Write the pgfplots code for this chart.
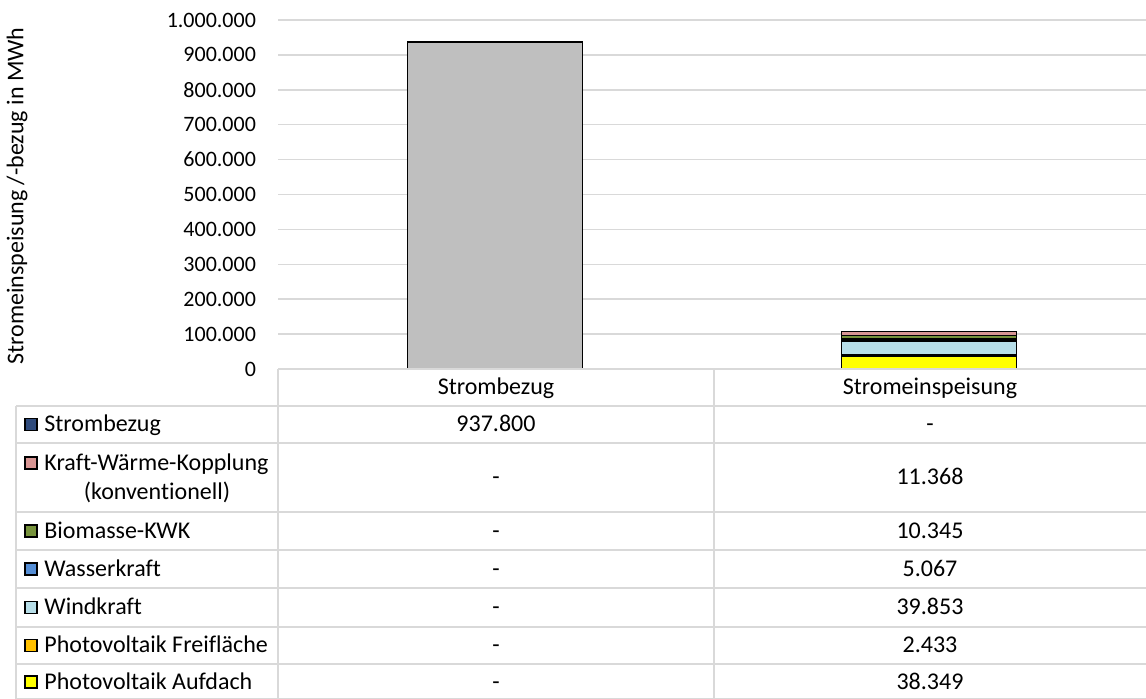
\documentclass[border=0pt]{standalone}
\usepackage{fontspec}
\setmainfont{Carlito}[Ligatures={NoCommon}]
\usepackage{pgfplots}
\pgfplotsset{compat=1.18}

\definecolor{gridgray}{HTML}{D9D9D9}
\definecolor{bezuggray}{HTML}{BFBFBF}
\definecolor{bezugblue}{HTML}{2F4B7C}
\definecolor{kwkpink}{HTML}{D99694}
\definecolor{biogreen}{HTML}{77933C}
\definecolor{wasserblue}{HTML}{558ED5}
\definecolor{windblue}{HTML}{B7DEE8}
\definecolor{pvorange}{HTML}{FFC000}
\definecolor{pvyellow}{HTML}{FFFF00}

% Zelleneintrag: Textbasis etwas unter der Zeilenmitte
\newcommand{\cell}[3]{\node[anchor=base, inner sep=0] at (#1,#2+7.5) {#3};}
\newcommand{\key}[3]{%
  \filldraw[fill=#1, draw=black, line width=0.7pt] (25,#2-6) rectangle (37,#2+6);
  \node[anchor=base west, inner sep=0] at (44,#2+7.5) {#3};}

\begin{document}
\begin{tikzpicture}[font=\fontsize{12}{14}\selectfont]
\useasboundingbox (0,0) rectangle (573pt,-349.5pt);

\begin{axis}[
    at={(139pt,-184.5pt)}, anchor=south west,
    scale only axis, width=434pt, height=174.5pt,
    ybar stacked, bar width=87.5pt,
    xmin=-0.5, xmax=1.5,
    ymin=0, ymax=1000000,
    ytick={0,100000,...,1000000},
    xtick=\empty,
    major tick length=0pt,
    axis line style={draw=none},
    ymajorgrids,
    grid style={gridgray, line width=0.75pt},
    scaled y ticks=false,
    yticklabel style={font=\fontsize{11}{13}\selectfont, xshift=-7.5pt,
        /pgf/number format/.cd, fixed, 1000 sep={.}, assume math mode=true},
    every axis plot/.append style={draw=black, line width=0.95pt},
    clip=false,
]
% Reihenfolge von unten nach oben
\addplot[fill=bezuggray] coordinates {(0,937800) (1,0)};
\addplot[fill=pvyellow]  coordinates {(0,0) (1,38349)};
\addplot[fill=pvorange]  coordinates {(0,0) (1,2433)};
\addplot[fill=windblue]  coordinates {(0,0) (1,39853)};
\addplot[fill=wasserblue] coordinates {(0,0) (1,5067)};
\addplot[fill=biogreen]  coordinates {(0,0) (1,10345)};
\addplot[fill=kwkpink]   coordinates {(0,0) (1,11368)};
\end{axis}

% Datentabelle (Koordinaten in Pixeln des Originals)
\begin{scope}[x=0.5pt, y=-0.5pt]
  \node[rotate=90, font=\fontsize{12}{14}\selectfont] at (17,196) {Stromeinspeisung /-bezug in MWh};

  \draw[gridgray, line width=0.75pt] (278,369) -- (1146,369);
  \foreach \yy in {406,443,512,550,588,627,664,699}
    \draw[gridgray, line width=0.75pt] (16,\yy) -- (1146,\yy);
  \draw[gridgray, line width=0.75pt] (16,406) -- (16,699);
  \draw[gridgray, line width=0.75pt] (278,369) -- (278,699);
  \draw[gridgray, line width=0.75pt] (714,369) -- (714,699);

  \cell{496}{387.5}{Strombezug}
  \cell{930}{387.5}{Stromeinspeisung}

  \key{bezugblue}{424.5}{Strombezug}
  \filldraw[fill=kwkpink, draw=black, line width=0.7pt] (25,457) rectangle (37,469);
  \node[anchor=base west, inner sep=0] at (44,470.5) {Kraft-Wärme-Kopplung};
  \node[anchor=base, inner sep=0] at (157,499.5) {(konventionell)};
  \key{biogreen}{531}{Biomasse-KWK}
  \key{wasserblue}{569}{Wasserkraft}
  \key{windblue}{607.5}{Windkraft}
  \key{pvorange}{645.5}{Photovoltaik Freifläche}
  \key{pvyellow}{682}{Photovoltaik Aufdach}

  \cell{496}{424.5}{937.800}  \cell{930}{424.5}{-}
  \cell{496}{477.5}{-}        \cell{930}{477.5}{11.368}
  \cell{496}{531}{-}          \cell{930}{531}{10.345}
  \cell{496}{569}{-}          \cell{930}{569}{5.067}
  \cell{496}{607.5}{-}        \cell{930}{607.5}{39.853}
  \cell{496}{645.5}{-}        \cell{930}{645.5}{2.433}
  \cell{496}{682}{-}          \cell{930}{682}{38.349}
\end{scope}
\end{tikzpicture}
\end{document}
